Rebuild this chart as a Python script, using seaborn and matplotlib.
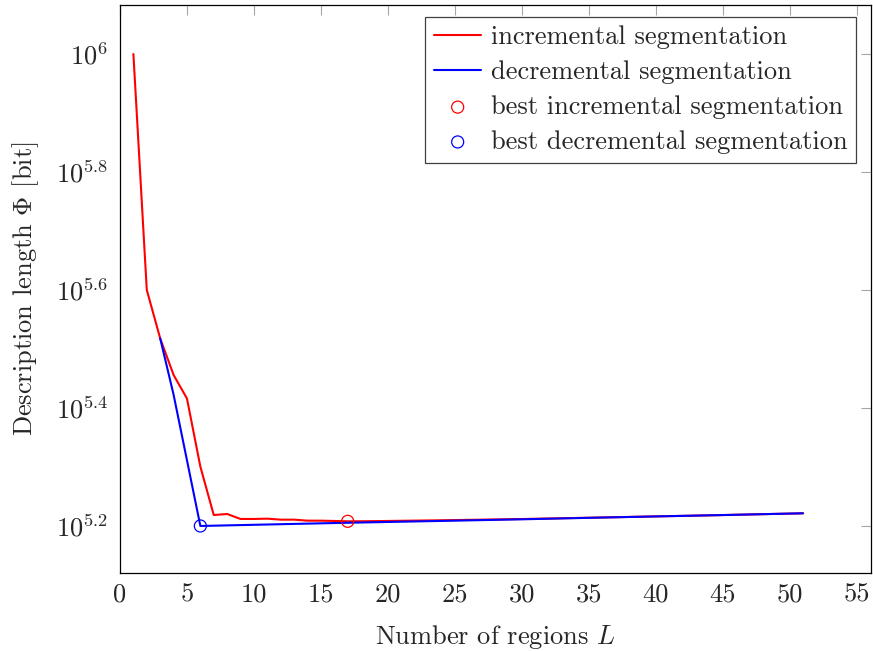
import numpy as np
import matplotlib
matplotlib.use("Agg")
import matplotlib.pyplot as plt
from matplotlib.ticker import FixedLocator, NullLocator
import seaborn as sns

# (log10 of description length)
inc_L = [1, 2, 3, 4, 5, 6, 7, 8, 9, 10, 11, 12, 13, 14, 15, 16, 17, 18, 19, 20,
         25, 30, 35, 40, 45, 51]
inc_log = [6.0, 5.6, 5.518, 5.456, 5.416, 5.3005, 5.2186, 5.2203, 5.2119, 5.2119,
           5.2124, 5.2107, 5.2107, 5.2090, 5.2090, 5.2085, 5.2079, 5.2080, 5.2082,
           5.2085, 5.2100, 5.2118, 5.2140, 5.2162, 5.2185, 5.2215]

dec_L = [3, 4, 5, 6, 10, 15, 20, 25, 30, 35, 40, 45, 51]
dec_log = [5.518, 5.4226, 5.3114, 5.2, 5.2020, 5.2045, 5.2068, 5.2090, 5.2113,
           5.2138, 5.2162, 5.2185, 5.2215]

best_inc = (17, 5.2079)
best_dec = (6, 5.2)

ytick_exp = [5.2, 5.4, 5.6, 5.8, 6.0]
ytick_labels = ["$10^{5.2}$", "$10^{5.4}$", "$10^{5.6}$", "$10^{5.8}$", "$10^{6}$"]
xticks = list(range(0, 60, 5))

sns.set_theme(style="white")
plt.rcParams["font.family"] = "serif"
plt.rcParams["font.serif"] = ["cmr10", "DejaVu Serif"]
plt.rcParams["mathtext.fontset"] = "cm"
plt.rcParams["axes.unicode_minus"] = False
plt.rcParams["axes.formatter.use_mathtext"] = True

FS = 19
W, H = 873, 651
fig = plt.figure(figsize=(W / 100, H / 100), dpi=100)
ax = fig.add_axes([120 / W, 1 - 573 / H, 750.7 / W, 568 / H])

inc_phi = 10 ** np.array(inc_log)
dec_phi = 10 ** np.array(dec_log)

sns.lineplot(x=inc_L, y=inc_phi, ax=ax, color="red", lw=1.5,
             label="incremental segmentation")
sns.lineplot(x=dec_L, y=dec_phi, ax=ax, color="blue", lw=1.5,
             label="decremental segmentation")
sns.scatterplot(x=[best_inc[0]], y=[10 ** best_inc[1]], ax=ax, marker="o", s=75,
                facecolor="none", edgecolor="red", linewidth=0.9,
                label="best incremental segmentation", zorder=5)
sns.scatterplot(x=[best_dec[0]], y=[10 ** best_dec[1]], ax=ax, marker="o", s=75,
                facecolor="none", edgecolor="blue", linewidth=0.9,
                label="best decremental segmentation", zorder=5)

ax.set_yscale("log")
ax.set_xlim(0, 56.05)
ax.set_ylim(10 ** 5.1203, 10 ** 6.083)
ax.set_xticks(xticks)
ax.set_xticklabels([str(t) for t in xticks])
ax.yaxis.set_major_locator(FixedLocator([10 ** e for e in ytick_exp]))
ax.yaxis.set_minor_locator(NullLocator())
ax.set_yticklabels(ytick_labels)

ax.tick_params(direction="in", top=True, right=True, length=7.5, width=0.8,
               color="0.65", labelsize=FS)
ax.tick_params(axis="x", pad=7)
ax.tick_params(axis="y", pad=8.5)
for s in ax.spines.values():
    s.set_color("black")
    s.set_linewidth(0.9)

ax.set_xlabel("Number of regions $L$", fontsize=FS)
ax.set_ylabel("Description length $\\Phi$ [bit]", fontsize=FS)
ax.xaxis.set_label_coords(0.5, -0.088)
ax.yaxis.set_label_coords(-0.1052, 0.5)

leg = ax.legend(loc="upper right", bbox_to_anchor=(0.9804, 0.9789),
                borderaxespad=0, fontsize=FS, frameon=True, fancybox=False,
                framealpha=1, edgecolor="0.25", handlelength=1.8,
                labelspacing=0.42, borderpad=0.33, handletextpad=0.35)
leg.get_frame().set_linewidth(0.9)

fig.savefig("out.png", dpi=100)
